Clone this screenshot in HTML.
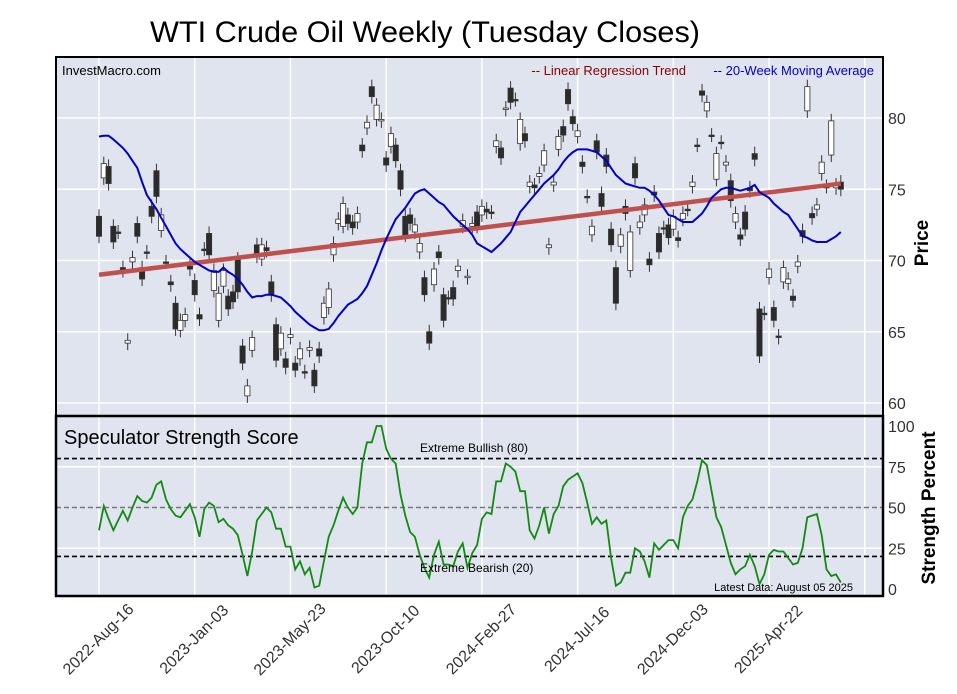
<!DOCTYPE html>
<html><head><meta charset="utf-8"><style>
html,body{margin:0;padding:0;background:#fff;}
svg{display:block;font-family:"Liberation Sans",Arial,sans-serif;}
</style></head><body>
<svg id="chart" width="957" height="694" viewBox="0 0 957 694" xmlns="http://www.w3.org/2000/svg">
<text x="425" y="42" font-size="30" text-anchor="middle" fill="#000" textLength="550" lengthAdjust="spacingAndGlyphs">WTI Crude Oil Weekly (Tuesday Closes)</text>
<rect x="56" y="57" width="827" height="359" fill="#dfe4ee"/>
<rect x="56" y="416" width="827" height="180" fill="#dfe4ee"/>
<g id="grid"></g>
<g id="marks"></g>
<rect x="56" y="57" width="827" height="359" fill="none" stroke="#000" stroke-width="2"/>
<rect x="56" y="416" width="827" height="180" fill="none" stroke="#000" stroke-width="2.5"/>
<text x="62" y="75" font-size="13" fill="#000">InvestMacro.com</text>
<text x="686" y="75" font-size="13" fill="#8b0000" text-anchor="end">-- Linear Regression Trend</text>
<text x="874" y="75" font-size="13" fill="#0000cc" text-anchor="end">-- 20-Week Moving Average</text>
<text x="64" y="444" font-size="20" fill="#000">Speculator Strength Score</text>
<text x="420" y="452" font-size="12" fill="#000">Extreme Bullish (80)</text>
<text x="420" y="572" font-size="12" fill="#000">Extreme Bearish (20)</text>
<text x="853" y="591" font-size="11" fill="#000" text-anchor="end">Latest Data: August 05 2025</text>
<text transform="translate(928,243) rotate(-90)" font-size="19" font-weight="bold" text-anchor="middle">Price</text>
<text transform="translate(935,508) rotate(-90)" font-size="19" font-weight="bold" text-anchor="middle">Strength Percent</text>
</svg>
<script>
const priceTicks=[60,65,70,75,80];
const strengthTicks=[0,25,50,75,100];
const dateLabels=["2022-Aug-16","2023-Jan-03","2023-May-23","2023-Oct-10","2024-Feb-27","2024-Jul-16","2024-Dec-03","2025-Apr-22"];
const labelWeekStep=20;
const opens=[73.1,75.8,76.6,72.4,72,69.5,64.2,69.9,72.6,69.5,70.6,73.8,76.3,72.1,69.9,68.5,67.0,65.1,65.8,69.6,68.6,66.2,70.8,71.9,67.9,65.8,68.2,67.5,67.8,70.1,64.0,60.5,63.7,71.1,70.1,70.9,68.5,65.5,63.8,63.1,64.6,62.8,63.1,62.2,63.7,62.3,63.8,66.0,66.7,70.4,72.6,72.4,73.2,72.7,72.7,78.1,79.3,82.2,79.9,79.8,77.2,78.0,78.1,76.3,73.1,73.2,72.0,70.6,68.8,65.0,68.3,70.6,67.6,67.4,68.1,69.3,72.4,68.8,72.4,73.4,73.2,73.6,73.4,78.0,77.9,80.6,82.1,81.3,78.2,78.9,75.2,75.3,75.9,76.7,70.9,75.3,77.8,79.4,82.0,80.1,78.7,76.9,74.5,71.8,78.4,74.7,77.4,72.2,69.5,71.0,73.8,69.3,76.8,72.3,73.2,70.1,74.8,71.9,72.3,72.5,72.2,71.6,72.9,73.6,75.2,78.1,81.9,80.5,78.8,75.7,78.3,76.7,75.6,72.7,71.8,73.4,75.1,77.5,66.6,66.3,68.8,66.7,64.7,68.5,68.4,67.5,69.6,72.1,80.5,73.3,73.6,76.1,75.2,77.4,75.1,75.5];
const closes=[71.7,76.8,75.4,71.3,72,69.3,64.4,70.2,71.7,68.7,70.6,73.1,74.5,73.2,69.9,68.3,65.2,65.8,66.2,69.4,67.6,65.9,70.8,70.4,69.3,67.7,69.3,66.6,67.1,67.8,62.8,61.2,64.6,70.3,71.1,70.7,67.6,63.0,64.9,62.5,64.8,62.3,63.8,62.2,63.9,61.2,63.3,67.0,68.0,71.2,72.9,74.0,72.6,72.3,73.3,77.7,79.7,81.5,80.9,79.9,76.7,78.9,77.0,75.0,71.8,72.6,72.5,71.2,67.6,64.2,69.4,70.2,65.8,67.4,67.3,69.6,72.8,68.9,72.6,72.4,73.8,73.4,73.4,78.4,77.2,80.7,81.1,81.3,79.9,78.4,75.5,75.1,76.1,77.7,71.1,75.5,78.7,78.8,81.0,79.6,79.1,76.6,74.5,72.4,77.6,73.8,76.6,71.1,67.0,71.8,73.3,72.0,75.8,72.7,73.9,69.7,74.6,70.6,72.3,71.6,73.1,71.4,73.3,73.6,75.5,78.1,81.6,81.1,78.8,77.5,78.3,76.9,74.2,73.3,71.5,72.2,74.9,77.1,63.3,66.3,69.4,65.8,64.6,69.5,68.7,67.2,69.9,71.7,82.2,73.0,73.9,76.9,75.2,79.8,75.3,75.0];
const movingAvg=[78.7,78.75,78.76,78.5,78.2,77.9,77.5,77.0,76.5,75.5,74.6,74.1,73.6,73.0,72.4,71.8,71.2,70.8,70.5,70.2,69.9,69.7,69.5,69.3,69.2,69.2,69.5,69.2,69.0,68.7,68.3,67.8,67.4,67.5,67.5,67.6,67.6,67.5,67.4,67.1,66.8,66.4,66.1,65.8,65.5,65.3,65.1,65.1,65.2,65.6,66.1,66.5,66.9,67.1,67.3,67.7,68.2,69.0,69.8,70.7,71.5,72.2,72.9,73.3,73.7,74.2,74.7,74.9,75.0,74.7,74.4,74.1,73.9,73.5,73.1,72.8,72.5,72.2,71.8,71.2,71.0,70.8,70.6,70.9,71.2,71.6,72.0,72.7,73.4,73.8,74.2,74.6,75.0,75.4,75.7,76.0,76.4,76.9,77.3,77.6,77.8,77.8,77.8,77.7,77.6,77.3,77.0,76.5,76.0,75.7,75.4,75.3,75.2,75.1,75.1,74.9,74.6,74.2,73.7,73.2,73.1,72.9,72.7,72.7,72.7,73.0,73.3,73.8,74.4,74.7,75.0,75.1,75.1,75.0,74.9,75.0,75.1,75.3,74.8,74.6,74.4,74.0,73.7,73.4,73.2,72.7,72.2,71.7,71.6,71.4,71.3,71.3,71.3,71.5,71.7,72.0];
const trendStart=69.0, trendEnd=75.4;
const strength=[36,51,43,36,42,48,42,50,57,54,53,56,64,66,55,49,45,44,48,52,44,32,49,53,51,41,43,39,37,33,21,8,23,42,46,50,47,37,37,26,26,12,17,9,13,1,2,17,32,39,48,56,50,46,50,77,90,90,100,100,86,80,77,58,45,35,32,21,13,7,21,29,15,15,14,23,28,13,22,27,43,47,46,66,66,77,75,72,60,60,36,31,39,50,34,46,51,63,67,69,71,65,53,40,44,40,42,19,2,4,10,10,25,23,17,7,28,24,27,30,30,25,44,51,55,66,79,76,60,44,38,27,16,9,12,14,21,14,3,9,21,24,23,23,19,15,16,25,44,45,46,33,12,8,9,4];

const NS="http://www.w3.org/2000/svg";
const grid=document.getElementById('grid'), marks=document.getElementById('marks'), svg=document.getElementById('chart');
const X0=99, XW=4.786;
const xAt=i=>X0+i*XW;
const yP=p=>118+(80-p)*14.25;
const yS=v=>589-v*1.63;
function mk(tag,attrs,parent){const e=document.createElementNS(NS,tag);for(const k in attrs)e.setAttribute(k,attrs[k]);parent.appendChild(e);return e;}

priceTicks.forEach(t=>{
  const l=mk('line',{x1:56,x2:883,y1:yP(t),y2:yP(t),stroke:'#fff','stroke-width':1.5},grid);
  
  
  const tx=mk('text',{x:888,y:yP(t)+6,'font-size':16,fill:'#333'},svg);
  tx.textContent=t;
  
  
});
strengthTicks.forEach(t=>{
  if(t!==50&&t!==0&&t!==100){const l=mk('line',{x1:56,x2:883,y1:yS(t),y2:yS(t),stroke:'#fff','stroke-width':1.5},grid);
  
  }
  const tx=mk('text',{x:888,y:yS(t)+6,'font-size':16,fill:'#333'},svg);
  tx.textContent=t;
  
  
});
const lx=[]; for(let k=0;k<=dateLabels.length;k++) lx.push(xAt(k*labelWeekStep));
lx.forEach(x=>{
  const l=mk('line',{x1:x,x2:x,y1:57,y2:596,stroke:'#fff','stroke-width':1.5},grid);
  
  
});
dateLabels.forEach((d,k)=>{
  const x=xAt(k*labelWeekStep);
  const tx=mk('text',{transform:`translate(${x},${640}) rotate(-45)`,'font-size':16,fill:'#333','text-anchor':'middle','dominant-baseline':'middle'},svg);
  tx.textContent=d;
  
  
});
[[80,'#000','bullish-line'],[50,'#777','midline'],[20,'#000','bearish-line']].forEach(r=>{
  const l=mk('line',{x1:56,x2:883,y1:yS(r[0]),y2:yS(r[0]),stroke:r[1],'stroke-width':1.6,'stroke-dasharray':'5,3'},grid);
  
  
});
const hw=2.6;
opens.forEach((o,i)=>{
  const c=closes[i], x=xAt(i);
  const hi=Math.max(o,c), lo=Math.min(o,c);
  const w=mk('line',{x1:x,x2:x,y1:yP(hi)-7,y2:yP(lo)+7,stroke:'#333','stroke-width':1},marks);
  
  
  const h=Math.max(yP(lo)-yP(hi),1.5);
  const b=mk('rect',{x:x-hw,y:yP(hi),width:hw*2,height:h,fill:c>o?'#fff':'#2b2b2b',stroke:'#333','stroke-width':0.8},marks);
  
  
});
const tr=mk('line',{x1:xAt(0),x2:xAt(closes.length-1),y1:yP(trendStart),y2:yP(trendEnd),stroke:'#c0504d','stroke-width':4.5},marks);


const ma=mk('path',{d:movingAvg.map((v,i)=>(i?'L':'M')+xAt(i).toFixed(1)+','+yP(v).toFixed(1)).join(''),fill:'none',stroke:'#0000cc','stroke-width':2},marks);


const st=mk('path',{d:strength.map((v,i)=>(i?'L':'M')+xAt(i).toFixed(1)+','+yS(v).toFixed(1)).join(''),fill:'none',stroke:'#138a13','stroke-width':1.8},marks);


</script>
</body></html>
